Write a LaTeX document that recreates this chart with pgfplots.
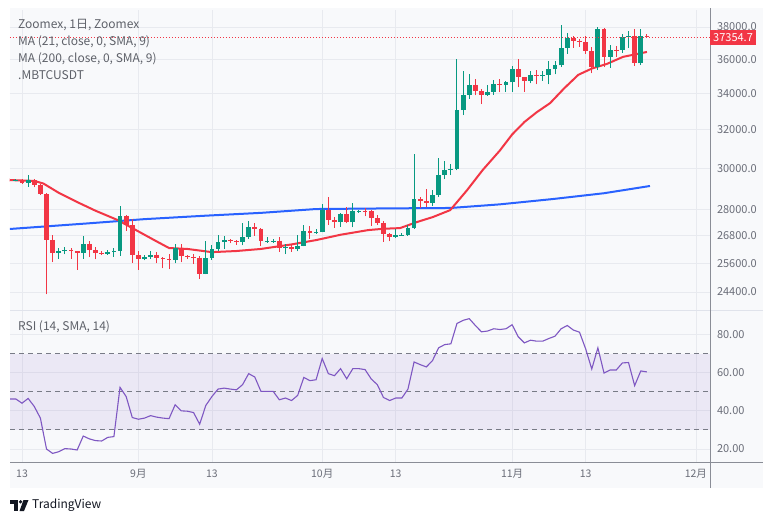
\documentclass[border=0pt]{standalone}
\usepackage{pgfplots}
\pgfplotsset{compat=1.18}
\usepackage{pgfplotstable}
\usepackage{fontspec}
\setmainfont{Noto Sans CJK JP}
\definecolor{bgc}{RGB}{248,249,251}
\definecolor{gridc}{RGB}{232,234,239}
\definecolor{sepc}{RGB}{224,227,235}
\definecolor{axisc}{RGB}{138,141,150}
\definecolor{labelc}{RGB}{106,109,120}
\definecolor{legc}{RGB}{94,97,105}
\definecolor{cgreen}{HTML}{089981}
\definecolor{cred}{HTML}{F23645}
\definecolor{mablue}{HTML}{2962FF}
\definecolor{rsic}{HTML}{7E57C2}
\definecolor{dashc}{HTML}{787B86}
\definecolor{tvc}{HTML}{131722}

% day index: 0 = 13 Aug
\pgfplotstableread{
d o h l c
-2 29420 29540 29340 29400
-1 29400 29480 29360 29420
0 29420 29460 29250 29280
1 29280 29690 29100 29400
2 29400 29460 29060 29170
3 29170 29230 28700 28720
4 28720 28780 24300 26620
5 26620 26830 25650 26050
6 26050 26260 25800 26120
7 26120 26290 25980 26190
8 26190 26260 25800 26120
9 26120 26140 25320 26050
10 26050 26800 25800 26440
11 26440 26560 25860 26170
12 26170 26300 25770 26060
13 26060 26120 25970 26010
14 26010 26180 25970 26100
15 26100 26250 25870 26120
16 26120 28150 25920 27720
17 27720 27760 27030 27300
18 27300 27580 25620 25940
19 25940 26130 25330 25800
20 25800 25970 25720 25870
21 25870 26120 25800 25970
22 25970 26100 25600 25810
23 25810 25860 25380 25780
24 25780 26000 25340 25750
25 25750 26440 25600 26240
26 26240 26440 25640 25900
27 25900 25940 25800 25880
28 25880 26010 25560 25840
29 25840 25920 24930 25160
30 25160 26560 25130 25840
31 25840 26400 25760 26230
32 26230 26860 26130 26530
33 26530 26780 26220 26610
34 26610 26680 26480 26570
35 26570 26620 26400 26530
36 26530 27400 26380 26760
37 26760 27490 26670 27220
38 27220 27380 26800 27130
39 27130 27150 26350 26570
40 26570 26730 26490 26580
41 26580 26640 26500 26590
42 26590 26740 26100 26250
43 26250 26430 25990 26300
44 26300 26400 26100 26220
45 26220 26830 26110 26370
46 26370 27310 26330 27020
47 27020 27230 26670 26910
48 26910 27090 26890 26970
49 26970 28270 26960 27980
50 27980 28600 27300 27500
51 27500 27670 27160 27430
52 27430 27840 27220 27790
53 27790 28130 27370 27410
54 27410 28290 27180 27930
55 27930 28000 27850 27950
56 27950 28100 27690 27920
57 27920 27990 27260 27590
58 27590 27740 27300 27390
59 27390 27480 26540 26870
60 26870 26950 26560 26750
61 26750 27100 26700 26850
62 26850 26950 26810 26860
63 26860 27290 26800 27150
64 27150 30750 27110 28500
65 28500 28610 28080 28410
66 28410 28980 28130 28320
67 28320 28920 28170 28710
68 28710 30550 28600 29670
69 29670 30350 29470 29910
70 29910 30200 29660 29990
71 29990 36000 29900 33070
72 33070 35300 32800 33920
73 33920 35150 33700 34500
74 34500 34820 33900 34150
75 34150 34250 33400 33890
76 33890 34480 33870 34090
77 34090 34750 33930 34540
78 34540 34850 34070 34480
79 34480 34720 34100 34640
80 34640 35600 34100 35420
81 35420 36050 34350 34940
82 34940 34950 34100 34730
83 34730 35280 34580 35080
84 35080 35380 34530 35050
85 35050 35280 34730 35070
86 35070 35900 34520 35420
87 35420 35890 35100 35640
88 35640 38130 35530 36700
89 36700 37620 36330 37320
90 37320 37420 36710 37130
91 37130 37230 36750 37060
92 37060 37430 36330 36490
93 36490 36750 35170 35540
94 35540 37980 35360 37880
95 37880 37930 35530 36160
96 36160 36870 35500 36600
97 36600 36840 36170 36570
98 36570 37540 36390 37370
99 37370 37750 36690 37450
100 37450 37880 35630 35750
101 35750 37900 35650 37420
102 37420 37560 37300 37355
}\ohlc

\pgfplotstableread{
d v
-2 29420
0 29400
2 29380
3.5 29250
6 28800
9 28360
12 27950
15.6 27520
19 27000
22 26550
24 26260
27 26220
31 26080
35 26130
39 26220
44 26420
48 26610
52 26850
56.5 27060
59 27120
61.7 27150
64.5 27430
67.1 27660
69.9 27980
72.6 28910
75.2 29920
78 30910
80 31750
82 32420
84 32950
86.2 33460
88.5 34300
90.8 35080
93 35450
95.5 35730
98.1 36150
102 36450
}\maA

\pgfplotstableread{
d v
-2 27110
10 27350
20 27560
30 27720
39 27850
48 28030
60 28060
70 28080
78 28250
86.6 28500
95 28780
102.5 29130
}\maB

\pgfplotstableread{
d v
-2 46.2
-1 46.2
0 44.0
1 46.5
2 42.3
3 36.2
4 20.0
5 17.7
6 18.6
7 20.2
8 20.0
9 19.5
10 26.8
11 25.3
12 24.4
13 24.2
14 26.1
15 26.5
16 52.3
17 47.5
18 36.5
19 35.6
20 36.2
21 37.5
22 36.7
23 36.2
24 35.9
25 43.2
26 40.0
27 39.8
28 39.1
29 33.0
30 42.8
31 47.5
32 51.4
33 51.9
34 51.4
35 51.0
36 53.7
37 59.5
38 57.7
39 50.2
40 50.2
41 50.2
42 45.8
43 46.7
44 45.4
45 48.1
46 57.5
47 55.8
48 56.3
49 67.4
50 59.5
51 58.4
52 62.1
53 56.8
54 62.1
55 62.1
56 61.6
57 56.7
58 53.7
59 47.0
60 45.4
61 46.7
62 46.7
63 51.4
64 65.6
65 64.2
66 63.0
67 66.3
68 73.0
69 74.7
70 75.1
71 85.8
72 87.4
73 88.3
74 84.7
75 81.4
76 81.8
77 83.0
78 82.6
79 83.0
80 85.1
81 78.8
82 75.6
83 77.0
84 76.5
85 76.5
86 77.9
87 79.1
88 83.0
89 84.7
90 82.3
91 81.2
92 72.5
93 61.9
94 73.0
95 59.8
96 61.4
97 61.4
98 65.1
99 65.3
100 53.2
101 60.9
102 60.4
}\rsi

\newcommand\drawcandles{%
  \pgfplotsforeachungrouped \i in {0,...,104}{%
    \pgfplotstablegetelem{\i}{d}\of\ohlc \let\cD\pgfplotsretval
    \pgfplotstablegetelem{\i}{o}\of\ohlc \let\cO\pgfplotsretval
    \pgfplotstablegetelem{\i}{h}\of\ohlc \let\cH\pgfplotsretval
    \pgfplotstablegetelem{\i}{l}\of\ohlc \let\cL\pgfplotsretval
    \pgfplotstablegetelem{\i}{c}\of\ohlc \let\cC\pgfplotsretval
    \ifnum\cC<\cO\relax \def\ccol{cred}\else\def\ccol{cgreen}\fi
    \edef\temp{%
      \noexpand\addplot[\ccol, line width=1pt, forget plot] coordinates {(\cD,\cL) (\cD,\cH)};
      \noexpand\addplot[\ccol, line width=4.8pt, line cap=butt, forget plot] coordinates {(\cD,\cO) (\cD,\cC)};
    }%
    \temp
  }%
}

\pgfplotsset{
  tvaxis/.style={
    scale only axis, anchor=south west, width=700pt,
    xmin=-1.96, xmax=112.3,
    xtick={0,19,31,49,61,80,92,110},
    axis line style={draw=none},
    major tick length=0pt,
    grid=major,
    major grid style={draw=gridc, line width=0.8pt},
    yticklabel pos=right,
    yticklabel style={anchor=west, xshift=3.5pt, text=labelc, font=\fontsize{11}{13}\selectfont},
    xticklabel style={text=labelc, font=\fontsize{10.5}{12}\selectfont},
    /pgf/number format/assume math mode=true,
  }
}

\begin{document}
\begin{tikzpicture}
\fill[white] (0pt,0pt) rectangle (772pt,523pt);
\fill[bgc] (10pt,35pt) rectangle (763pt,515pt);

% main price pane
\begin{axis}[tvaxis,
  at={(10pt,212pt)}, height=301pt,
  ymode=log, ymin=23640, ymax=39100,
  ytick={24400,25600,26800,28000,30000,32000,34000,36000,38000},
  yticklabels={24400.0,25600.0,26800.0,28000.0,30000.0,32000.0,34000.0,36000.0,38000.0},
  minor ytick={},
  xticklabels={},
]
\addplot[mablue, line width=2pt, forget plot] table[x=d, y=v] {\maB};
\addplot[cred, line width=2pt, forget plot] table[x=d, y=v] {\maA};
\drawcandles
\addplot[cred, line width=0.9pt, dash pattern=on 1pt off 2pt, forget plot] coordinates {(-2,37354.7) (112.3,37354.7)};
\coordinate (lastp) at (axis cs:112.3,37354.7);
\end{axis}

% RSI pane
\begin{axis}[tvaxis,
  at={(10pt,61pt)}, height=151pt,
  ymin=13.2, ymax=92.3,
  ytick={20,40,60,80},
  yticklabels={20.00,40.00,60.00,80.00},
  xticklabels={13,9月,13,10月,13,11月,13,12月},
  xticklabel style={yshift=-4pt},
]
\addplot[fill=rsic, fill opacity=0.1, draw=none, forget plot] coordinates {(-5,30) (120,30) (120,70) (-5,70)} -- cycle;
\addplot[dashc, line width=1pt, dash pattern=on 5pt off 4pt, forget plot] coordinates {(-1.96,70) (112.3,70)};
\addplot[dashc, line width=1pt, dash pattern=on 5pt off 4pt, forget plot] coordinates {(-1.96,50) (112.3,50)};
\addplot[dashc, line width=1pt, dash pattern=on 5pt off 4pt, forget plot] coordinates {(-1.96,30) (112.3,30)};
\addplot[rsic, line width=1.1pt, forget plot] table[x=d, y=v] {\rsi};
\end{axis}

% pane separators and axis lines
\draw[sepc, line width=1pt] (10pt,212pt) -- (763pt,212pt);
\draw[axisc, line width=1pt] (10pt,61pt) -- (763pt,61pt);
\draw[axisc, line width=1pt] (710pt,35pt) -- (710pt,515pt);

% last price tag
\node[fill=cred, text=white, anchor=west, inner xsep=3pt, inner ysep=0pt, minimum height=15pt,
      font=\fontsize{11}{13}\selectfont] at (lastp) {37354.7};

% legend texts
\begin{scope}[every node/.style={anchor=west, text=legc, inner sep=0pt, font=\fontsize{12}{14}\selectfont}]
\node at (18pt,498pt) {Zoomex, 1日, Zoomex};
\node at (18pt,481pt) {MA (21, close, 0, SMA, 9)};
\node at (18pt,464pt) {MA (200, close, 0, SMA, 9)};
\node at (18pt,448pt) {.MBTCUSDT};
\node at (18pt,196pt) {RSI (14, SMA, 14)};
\end{scope}

% TradingView logo
\fill[tvc] (10pt,19.5pt) rectangle (17.5pt,23pt);
\fill[tvc] (13.5pt,12pt) rectangle (17.5pt,19.5pt);
\fill[tvc] (20.6pt,21.2pt) circle (1.8pt);
\fill[tvc] (23.5pt,23pt) -- (28.5pt,23pt) -- (24pt,12pt) -- (19.5pt,12pt) -- cycle;
\node[anchor=west, text=tvc, inner sep=0pt, font=\fontsize{12}{14}\selectfont] at (32pt,17.5pt) {TradingView};
\end{tikzpicture}
\end{document}
